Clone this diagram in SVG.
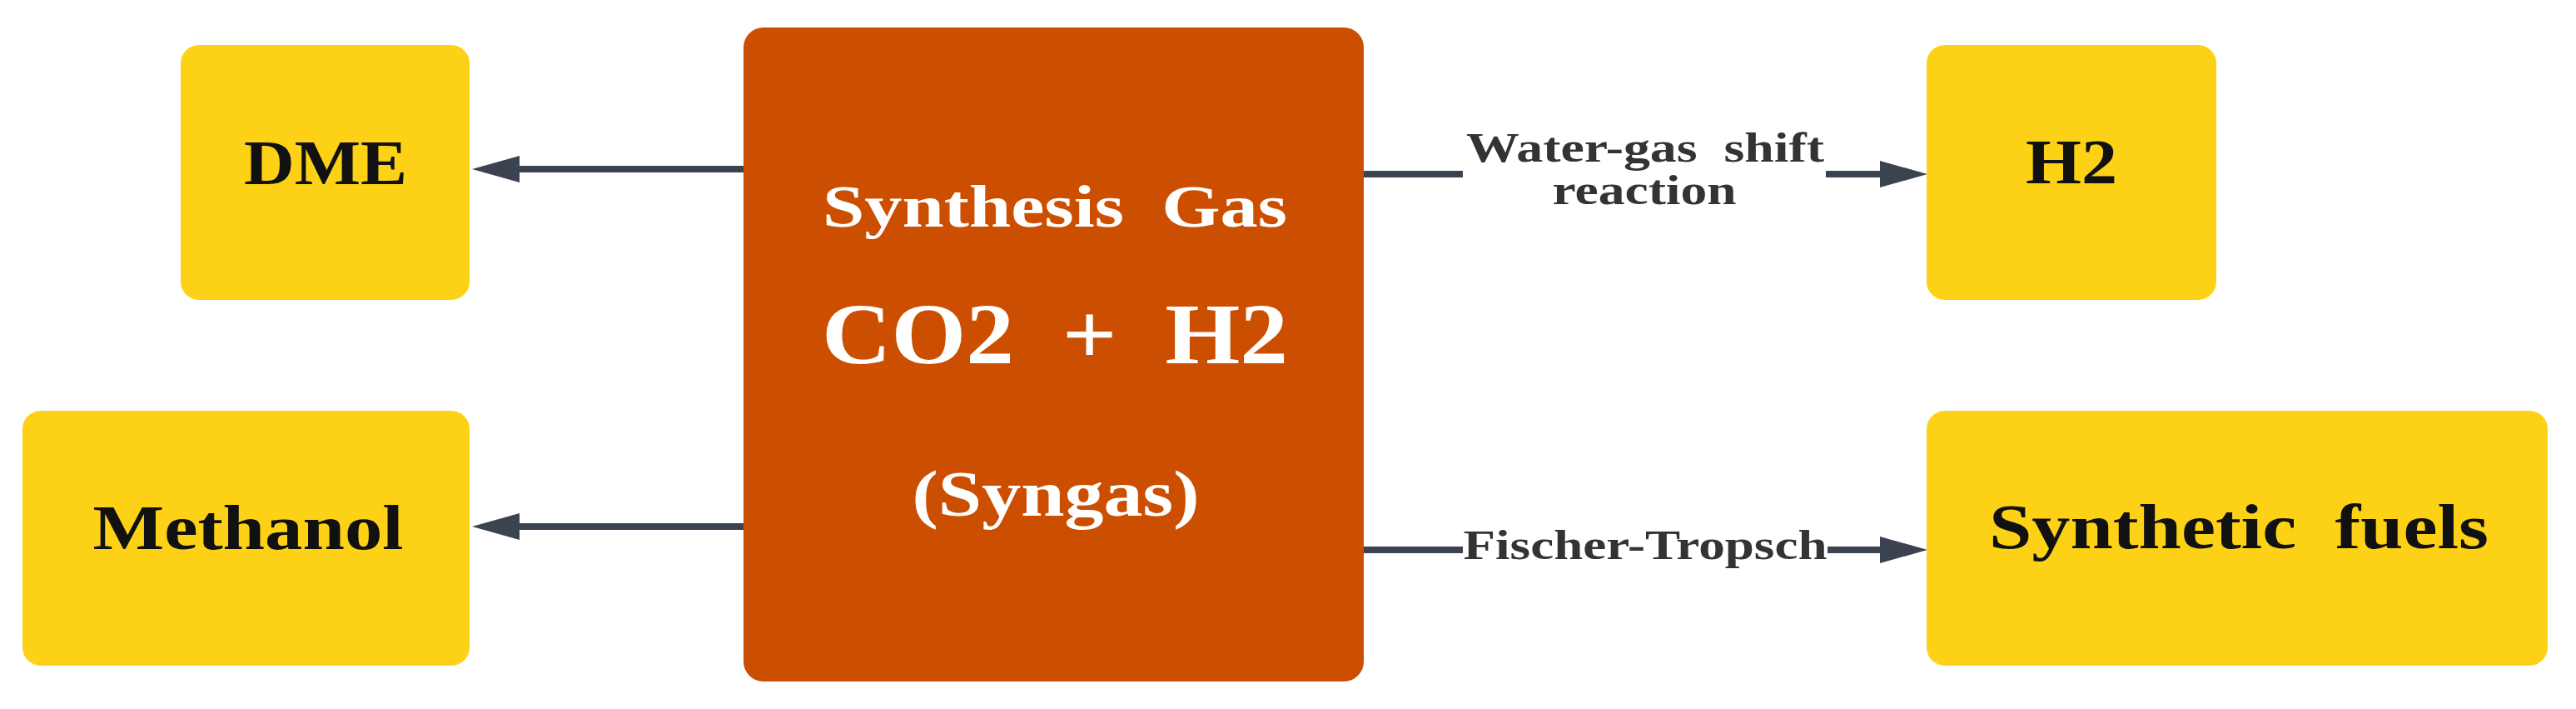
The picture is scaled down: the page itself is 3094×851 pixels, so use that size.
<svg xmlns="http://www.w3.org/2000/svg" width="3094" height="851" viewBox="0 0 3094 851">
  <defs>
    <style>
      .prod { fill: #FCD116; }
      .core { fill: #CC4E00; }
      .t { font-family: "Liberation Serif", "Times New Roman", serif; font-weight: bold; text-anchor: middle; white-space: pre; }
      .dark { fill: #111111; }
      .white { fill: #FFFFFF; }
      .lbl { fill: #333333; }
      .conn { stroke: #3B4350; stroke-width: 8; fill: none; stroke-linecap: butt; }
    </style>
    <marker id="arrow" markerUnits="userSpaceOnUse" markerWidth="58" markerHeight="34" refX="0" refY="17" orient="auto">
      <path d="M0,1 L57,17 L0,33 z" fill="#3B4350"/>
    </marker>
  </defs>
  <rect x="0" y="0" width="3094" height="851" fill="#FFFFFF"/>

  <g id="connectors">
    <path class="conn" d="M893,203 L624,203" marker-end="url(#arrow)"/>
    <path class="conn" d="M893,632 L624,632" marker-end="url(#arrow)"/>
    <path class="conn" d="M1638,209 L1757,209"/>
    <path class="conn" d="M2193,209 L2258,209" marker-end="url(#arrow)"/>
    <path class="conn" d="M1638,660 L1757,660"/>
    <path class="conn" d="M2195,660 L2258,660" marker-end="url(#arrow)"/>
    <text class="t lbl" x="1976" y="194" font-size="51" textLength="430" lengthAdjust="spacingAndGlyphs" xml:space="preserve">Water-gas  shift</text>
    <text class="t lbl" x="1975" y="245" font-size="51" textLength="221" lengthAdjust="spacingAndGlyphs">reaction</text>
    <text class="t lbl" x="1976" y="671" font-size="51" textLength="437" lengthAdjust="spacingAndGlyphs">Fischer-Tropsch</text>
  </g>

  <g id="node-syngas">
    <rect class="core" x="893" y="33" width="745" height="785" rx="24"/>
    <text class="t white" x="1267" y="272" font-size="71" textLength="558" lengthAdjust="spacingAndGlyphs" xml:space="preserve">Synthesis  Gas</text>
    <text class="t white" x="1267" y="436" font-size="103" textLength="560" lengthAdjust="spacingAndGlyphs" xml:space="preserve">CO2  +  H2</text>
    <text class="t white" x="1268" y="619" font-size="78" textLength="345" lengthAdjust="spacingAndGlyphs">(Syngas)</text>
  </g>

  <g id="node-dme">
    <rect class="prod" x="217" y="54" width="347" height="306" rx="22"/>
    <text class="t dark" x="391" y="221" font-size="76" textLength="196" lengthAdjust="spacingAndGlyphs">DME</text>
  </g>

  <g id="node-methanol">
    <rect class="prod" x="27" y="493" width="537" height="306" rx="22"/>
    <text class="t dark" x="298" y="659" font-size="77" textLength="373" lengthAdjust="spacingAndGlyphs">Methanol</text>
  </g>

  <g id="node-h2">
    <rect class="prod" x="2314" y="54" width="348" height="306" rx="22"/>
    <text class="t dark" x="2488" y="220" font-size="76" textLength="110" lengthAdjust="spacingAndGlyphs">H2</text>
  </g>

  <g id="node-synfuels">
    <rect class="prod" x="2314" y="493" width="746" height="306" rx="22"/>
    <text class="t dark" x="2689" y="658" font-size="76" textLength="600" lengthAdjust="spacingAndGlyphs" xml:space="preserve">Synthetic  fuels</text>
  </g>
</svg>
